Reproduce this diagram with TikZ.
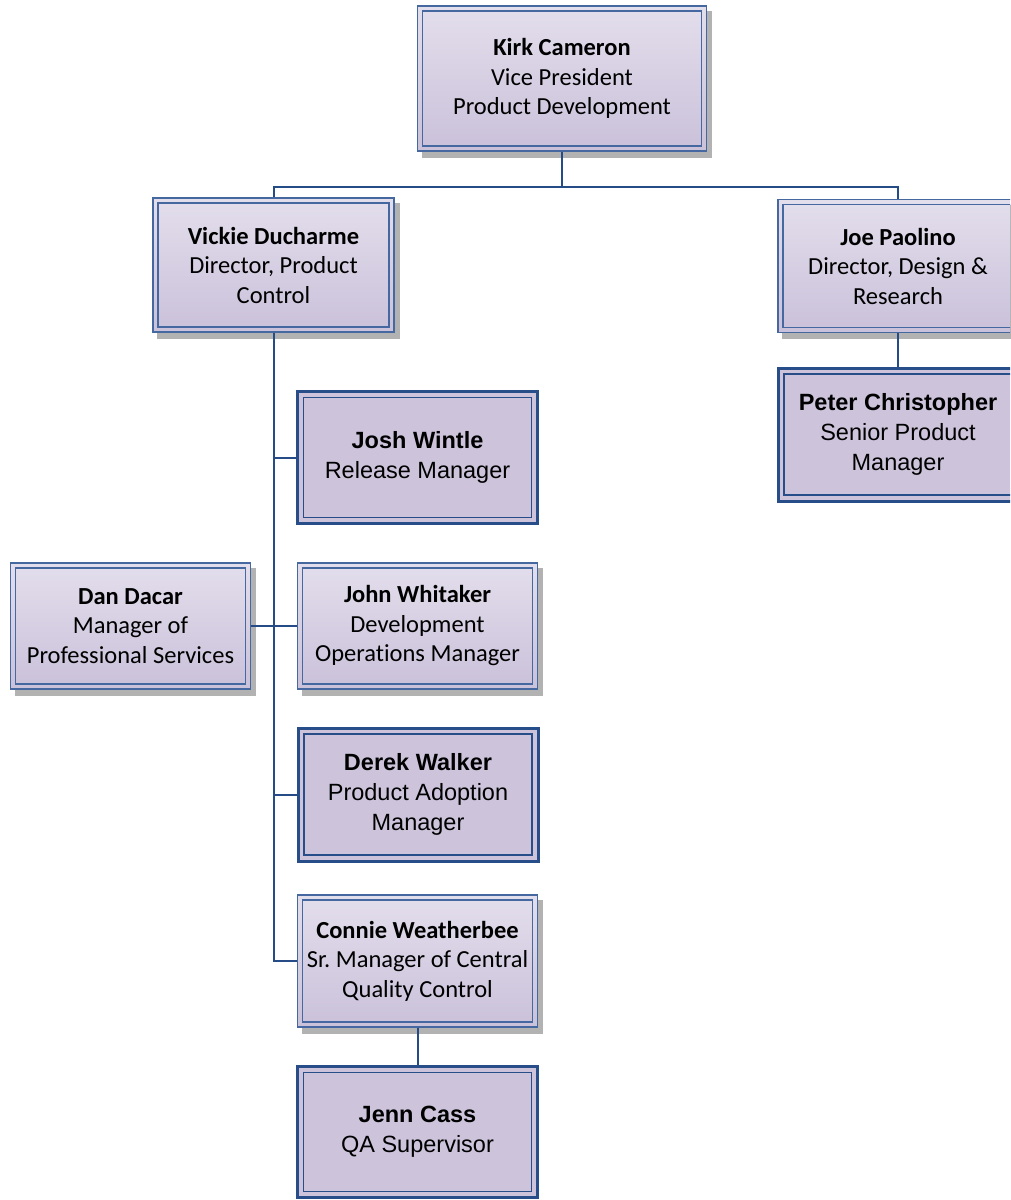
\documentclass[tikz,border=0pt]{standalone}
\usepackage{fontspec}
\newfontfamily\carl[Ligatures=NoCommon]{Carlito}
\newfontfamily\arl{Liberation Sans}
\usetikzlibrary{backgrounds}
\definecolor{lborder}{RGB}{70,104,160}
\definecolor{dborder}{RGB}{40,78,138}
\definecolor{ltop}{RGB}{227,222,236}
\definecolor{lbot}{RGB}{202,193,218}
\definecolor{dfill}{RGB}{205,196,220}
\definecolor{wire}{RGB}{38,76,135}
\definecolor{shadowcol}{RGB}{178,178,178}
\tikzset{
  lightbox/.style={draw=lborder, line width=1.5pt, top color=ltop, bottom color=lbot,
    align=center, inner sep=0pt, font=\carl\fontsize{24.5}{29.5}\selectfont,
    path picture={\draw[lborder, line width=1.1pt]
      ([xshift=5pt,yshift=-5pt]path picture bounding box.north west) rectangle
      ([xshift=-5pt,yshift=5pt]path picture bounding box.south east);}},
  darkbox/.style={draw=dborder, line width=3pt, fill=dfill,
    align=center, inner sep=0pt, font=\arl\fontsize{23.5}{30}\selectfont,
    path picture={\draw[dborder, line width=1.8pt]
      ([xshift=6pt,yshift=-6pt]path picture bounding box.north west) rectangle
      ([xshift=-6pt,yshift=6pt]path picture bounding box.south east);}},
  wireline/.style={draw=wire, line width=2pt}
}
\newcommand\shadowof[1]{\fill[shadowcol] ([shift={(5pt,-6pt)}]#1.north west) rectangle ([shift={(5pt,-6pt)}]#1.south east);}
\begin{document}
\frenchspacing
\begin{tikzpicture}[x=1pt,y=-1pt]
\clip (0,0) rectangle (1010,1200);
% nodes
\node[lightbox, minimum width=289pt, minimum height=145pt] (kirk) at (562,78.5)
  {\textbf{Kirk Cameron}\\Vice President\\Product Development};
\node[lightbox, minimum width=241pt, minimum height=134pt] (vickie) at (273.5,265)
  {\textbf{Vickie Ducharme}\\Director, Product\\Control};
\node[lightbox, minimum width=240pt, minimum height=133pt] (joe) at (898,266)
  {\textbf{Joe Paolino}\\Director, Design \&\\Research};
\node[darkbox, minimum width=240pt, minimum height=133pt] (peter) at (898,434.5)
  {\textbf{Peter Christopher}\\Senior Product\\Manager};
\node[darkbox, minimum width=240pt, minimum height=132pt] (josh) at (417.5,457.5)
  {\textbf{Josh Wintle}\\Release Manager};
\node[lightbox, minimum width=240pt, minimum height=126pt] (john) at (417.5,626)
  {\textbf{John Whitaker}\\Development\\Operations Manager};
\node[lightbox, minimum width=240pt, minimum height=126pt] (dan) at (130.5,626)
  {\textbf{Dan Dacar}\\Manager of\\Professional Services};
\node[darkbox, minimum width=240pt, minimum height=133pt] (derek) at (418,794.5)
  {\textbf{Derek Walker}\\Product Adoption\\Manager};
\node[lightbox, minimum width=240pt, minimum height=132pt] (connie) at (417.5,961)
  {\textbf{Connie Weatherbee}\\Sr.\ Manager of Central\\Quality Control};
\node[darkbox, minimum width=240pt, minimum height=131pt] (jenn) at (417.5,1132)
  {\textbf{Jenn Cass}\\QA Supervisor};
% shadows and background
\begin{scope}[on background layer]
\fill[white] (0,0) rectangle (1010,1200);
\shadowof{kirk}\shadowof{vickie}\shadowof{joe}\shadowof{john}\shadowof{dan}\shadowof{connie}
\end{scope}
% connectors
\coordinate (bus) at (562,187);
\draw[wireline] (kirk.south) -- (bus);
\draw[wireline] (bus) -| (vickie.north);
\draw[wireline] (bus) -| (joe.north);
\draw[wireline] (joe.south) -- (peter.north);
\draw[wireline] (vickie.south) |- (josh.west);
\draw[wireline] (vickie.south) |- (derek.west);
\draw[wireline] (vickie.south) |- (connie.west);
\draw[wireline] (dan.east) -- (john.west);
\draw[wireline] (connie.south) -- (jenn.north);
\end{tikzpicture}
\end{document}
